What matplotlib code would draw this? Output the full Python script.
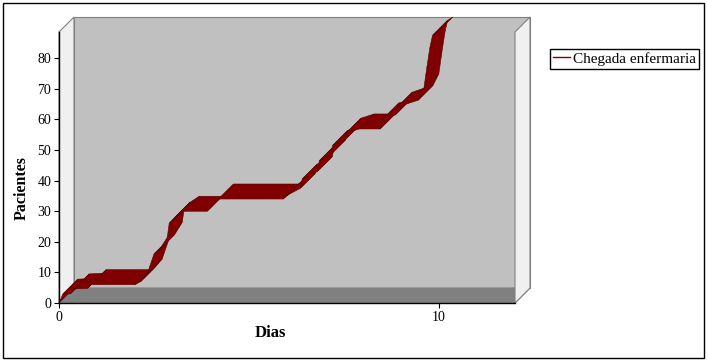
import matplotlib
matplotlib.use("Agg")
import matplotlib.pyplot as plt
from matplotlib.patches import Polygon, Rectangle
from matplotlib.lines import Line2D
import numpy as np

plt.rcParams['font.family'] = ['Liberation Serif', 'DejaVu Serif']

# cumulative arrivals at the ward (front edge of the ribbon)
dias = [0.0, 0.1, 0.3, 0.4, 0.75, 0.85, 2.0, 2.15, 2.32, 2.5, 2.65, 2.85, 2.9,
        3.05, 3.3, 3.9, 4.2, 5.9, 6.05, 6.35, 6.4, 6.8, 6.85, 7.15, 7.2,
        7.5, 7.55, 7.9, 8.45, 8.55, 8.85, 8.9, 9.2, 9.45, 9.6, 9.68,
        9.76, 9.83, 9.97]
pacientes = [0, 2.9, 3, 4.6, 4.8, 6, 6, 7, 9.5, 16, 17.5, 21.5, 26,
             28, 30, 30, 34, 34, 35.5, 37.5, 40.5, 43, 46.5, 48.5, 51.5,
             53, 55.5, 56.9, 56.9, 60.5, 61.5, 64, 65.3, 66.3, 70, 77,
             83.5, 87.5, 88.6]
serie = 'Chegada enfermaria'
yticks = list(range(0, 81, 10))
xticks = [0, 10]

W, H = 708, 360
fig = plt.figure(figsize=(W / 100, H / 100), dpi=100)
ax = fig.add_axes([59 / W, 57 / H, 456 / W, 271 / H])
ax.set_xlim(0, 12)
ax.set_ylim(0, 88.6)
ax.set_facecolor('none')

# depth of the 3D box: 15 px up and to the right
p0 = ax.transData.transform((0, 0))
dx, dy = ax.transData.inverted().transform(p0 + np.array([15, 15]))
x1, y1 = 12, 88.6

def face(pts, color, z):
    ax.add_patch(Polygon(pts, closed=True, fc=color, ec='#808080', lw=0.8,
                         clip_on=False, zorder=z))

face([(dx, dy), (x1 + dx, dy), (x1 + dx, y1 + dy), (dx, y1 + dy)], '#c0c0c0', 0.5)
face([(0, 0), (0, y1), (dx, y1 + dy), (dx, dy)], '#f0f0f0', 0.6)
face([(0, 0), (x1, 0), (x1 + dx, dy), (dx, dy)], '#808080', 0.7)
face([(x1, 0), (x1, y1), (x1 + dx, y1 + dy), (x1 + dx, dy)], '#f0f0f0', 0.8)

# the ribbon, one quad per segment
for i in range(len(dias) - 1):
    xa, ya, xb, yb = dias[i], pacientes[i], dias[i + 1], pacientes[i + 1]
    ax.add_patch(Polygon([(xa, ya), (xb, yb), (xb + dx, yb + dy), (xa + dx, ya + dy)],
                         closed=True, fc='#800000', ec='#5a0000', lw=0.4,
                         clip_on=False, zorder=2))

for s in ['top', 'right']:
    ax.spines[s].set_visible(False)
for s in ['left', 'bottom']:
    ax.spines[s].set_color('black')
    ax.spines[s].set_linewidth(1)
    ax.spines[s].set_zorder(3)

ax.set_xticks(xticks)
ax.set_yticks(yticks)
ax.tick_params(direction='out', length=3.6, width=0.8, labelsize=10, pad=2)

fig.text(270 / W, 1 - 333 / H, 'Dias', ha='center', va='center',
         fontsize=12, fontweight='bold')
fig.text(22 / W, 1 - 188 / H, 'Pacientes', ha='center', va='center',
         rotation=90, fontsize=11.5, fontweight='bold')

leg = ax.legend(handles=[Line2D([], [], color='#800000', lw=1)], labels=[serie],
                loc='upper left', bbox_to_anchor=(550 / W, 1 - 49 / H),
                bbox_transform=fig.transFigure, fancybox=False, framealpha=1,
                edgecolor='black', borderpad=0.2, handlelength=1.1,
                handletextpad=0.2, borderaxespad=0, fontsize=11)
leg.get_frame().set_linewidth(1)

fig.add_artist(Rectangle((2.5 / W, 2.5 / H), 701.5 / W, 354.5 / H,
                         transform=fig.transFigure, fill=False, ec='black', lw=1))

fig.savefig('out.png', dpi=100)
